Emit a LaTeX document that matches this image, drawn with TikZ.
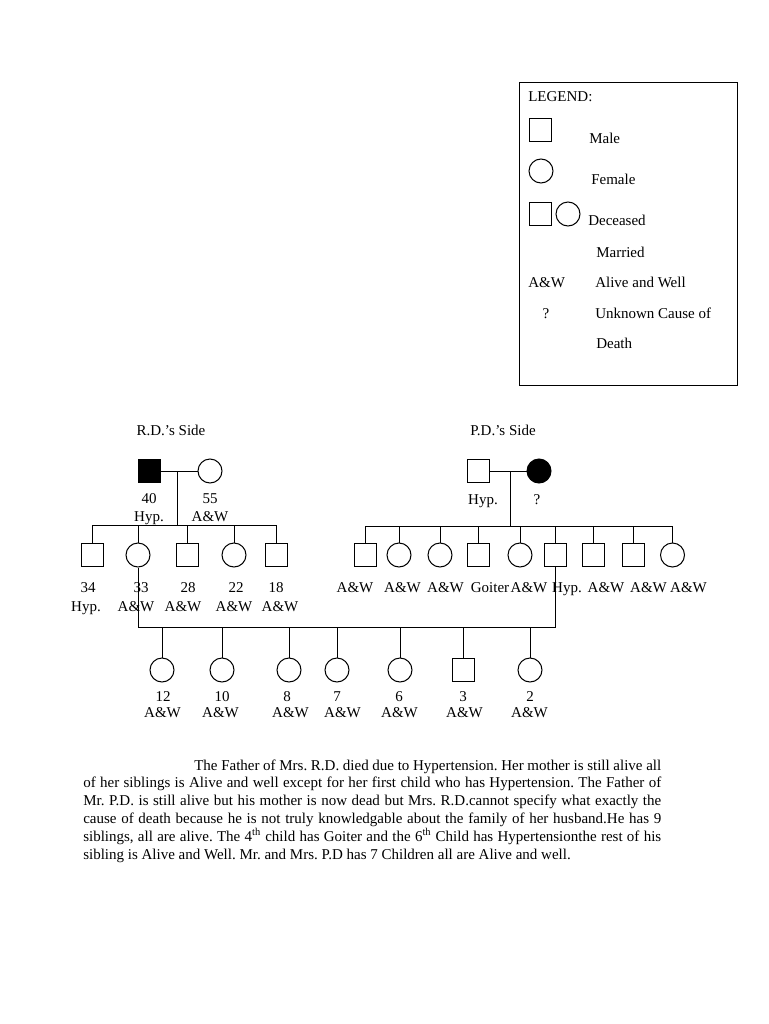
\documentclass[tikz,border=0pt]{standalone}
\usepackage{fontspec}
\setmainfont{Liberation Serif}
\newcommand\lblfont{\fontsize{11.25}{13.35}\selectfont}
\tikzset{
  male/.style={draw, rectangle, minimum width=16.5pt, minimum height=17.5pt, inner sep=0pt, line width=0.75pt},
  female/.style={draw, circle, minimum size=18pt, inner sep=0pt, line width=0.75pt},
  dead/.style={fill=black},
  lbl/.style={font=\lblfont, inner sep=0pt, anchor=base},
  lblw/.style={font=\lblfont, inner sep=0pt, anchor=base west},
  conn/.style={line width=0.75pt}
}
\begin{document}
\begin{tikzpicture}[x=0.75pt, y=-0.75pt]
\useasboundingbox (0,0) rectangle (768,1024);
\fill[white] (0,0) rectangle (768,1024);

% ---------- Legend ----------
\draw[conn] (519,83) rectangle (737,385);
\node[lblw] (lgtitle) at (528,101) {LEGEND:};
\node[male] (lgmale) at (540,130) {};
\node[lblw] (lgmalet) at (589,143) {Male};
\node[female] (lgfem) at (541,171) {};
\node[lblw] (lgfemt) at (591,184) {Female};
\node[male] (lgdm) at (540,214) {};
\node[female] (lgdf) at (568,214) {};
\node[lblw] (lgdt) at (588,225) {Deceased};
\node[lblw] (lgmar) at (596,257) {Married};
\node[lblw] (lgaw) at (528,287) {A\&W};
\node[lblw] (lgawt) at (595,287) {Alive and Well};
\node[lbl] (lgq) at (546,318) {?};
\node[lblw] (lgqt) at (595,318) {Unknown Cause of};
\node[lblw] (lgqt2) at (596,348) {Death};

% ---------- Headers ----------
\node[lbl] (rdside) at (171,435) {R.D.’s Side};
\node[lbl] (pdside) at (503,435) {P.D.’s Side};

% ---------- R.D. parents ----------
\node[male,dead] (rdf) at (149.5,471) {};
\node[female] (rdm) at (210,471) {};
\coordinate (rdmid) at (177,471);
\coordinate (rdsib) at (177,525);
\draw[conn] (rdf) -- (rdm);
\draw[conn] (rdmid) -- (rdsib);
\node[lbl] (rdfa) at (149,503) {40};
\node[lbl] (rdfs) at (149,521) {Hyp.};
\node[lbl] (rdma) at (210,503) {55};
\node[lbl] (rdms) at (210,521) {A\&W};

% ---------- R.D. children ----------
\node[male] (rc1) at (92,555) {};
\node[female] (rc2) at (138,555) {};
\node[male] (rc3) at (187.5,555) {};
\node[female] (rc4) at (234,555) {};
\node[male] (rc5) at (276,555) {};
\draw[conn] (rc1.north |- rdsib) -- (rc5.north |- rdsib);
\foreach \c in {rc1,rc2,rc3,rc4,rc5}
  \draw[conn] (\c.north) -- (\c.north |- rdsib);
\node[lbl] (rc1a) at (88,592) {34};
\node[lbl] (rc1s) at (86,611) {Hyp.};
\node[lbl] (rc2a) at (141,592) {33};
\node[lbl] (rc2s) at (136,611) {A\&W};
\node[lbl] (rc3a) at (188,592) {28};
\node[lbl] (rc3s) at (183,611) {A\&W};
\node[lbl] (rc4a) at (236,592) {22};
\node[lbl] (rc4s) at (234,611) {A\&W};
\node[lbl] (rc5a) at (276,592) {18};
\node[lbl] (rc5s) at (280,611) {A\&W};

% ---------- P.D. parents ----------
\node[male] (pdf) at (478,471) {};
\node[female,dead] (pdm) at (539,471) {};
\coordinate (pdmid) at (510,471);
\coordinate (pdsib) at (510,526);
\draw[conn] (pdf) -- (pdm);
\draw[conn] (pdmid) -- (pdsib);
\node[lbl] (pdfs) at (483,504) {Hyp.};
\node[lbl] (pdms) at (537,504) {?};

% ---------- P.D. children ----------
\node[male] (pc1) at (365.5,555) {};
\node[female] (pc2) at (399,555) {};
\node[female] (pc3) at (440,555) {};
\node[male] (pc4) at (478,555) {};
\node[female] (pc5) at (520,555) {};
\node[male] (pc6) at (555,555) {};
\node[male] (pc7) at (593,555) {};
\node[male] (pc8) at (633,555) {};
\node[female] (pc9) at (672.5,555) {};
\draw[conn] (pc1.north |- pdsib) -- (pc9.north |- pdsib);
\foreach \c in {pc1,pc2,pc3,pc4,pc5,pc6,pc7,pc8,pc9}
  \draw[conn] (\c.north) -- (\c.north |- pdsib);
\node[lbl] (pc1s) at (355,592) {A\&W};
\node[lbl] (pc2s) at (402.5,592) {A\&W};
\node[lbl] (pc3s) at (445.5,592) {A\&W};
\node[lbl] (pc4s) at (490,592) {Goiter};
\node[lbl] (pc5s) at (529,592) {A\&W};
\node[lbl] (pc6s) at (567,592) {Hyp.};
\node[lbl] (pc7s) at (606,592) {A\&W};
\node[lbl] (pc8s) at (648.5,592) {A\&W};
\node[lbl] (pc9s) at (688.5,592) {A\&W};

% ---------- Marriage of rc2 and pc6 ----------
\coordinate (mline) at (300,627);
\draw[conn] (rc2.south) -- (rc2.south |- mline) -- (pc6.south |- mline) -- (pc6.south);

% ---------- Grandchildren ----------
\node[female] (g1) at (162,670) {};
\node[female] (g2) at (222,670) {};
\node[female] (g3) at (289,670) {};
\node[female] (g4) at (337,670) {};
\node[female] (g5) at (400,670) {};
\node[male] (g6) at (463,670) {};
\node[female] (g7) at (530,670) {};
\foreach \c in {g1,g2,g3,g4,g5,g6,g7}
  \draw[conn] (\c.north) -- (\c.north |- mline);
\node[lbl] (g1a) at (163,701) {12};
\node[lbl] (g1s) at (162.5,717) {A\&W};
\node[lbl] (g2a) at (222,701) {10};
\node[lbl] (g2s) at (220.5,717) {A\&W};
\node[lbl] (g3a) at (287,701) {8};
\node[lbl] (g3s) at (290.5,717) {A\&W};
\node[lbl] (g4a) at (337,701) {7};
\node[lbl] (g4s) at (342.5,717) {A\&W};
\node[lbl] (g5a) at (399,701) {6};
\node[lbl] (g5s) at (399.5,717) {A\&W};
\node[lbl] (g6a) at (463,701) {3};
\node[lbl] (g6s) at (464.5,717) {A\&W};
\node[lbl] (g7a) at (530,701) {2};
\node[lbl] (g7s) at (529.5,717) {A\&W};

% ---------- Paragraph ----------
\node[font=\lblfont, inner sep=0pt, anchor=base west, text width=433.5pt, align=justify] (para) at (83,770)
{\frenchspacing\hspace*{83.25pt}The Father of Mrs. R.D. died due to Hypertension. Her mother is still alive all\linebreak
of her siblings is Alive and well except for her first child who has Hypertension. The Father of\linebreak
Mr. P.D. is still alive but his mother is now dead but Mrs. R.D.cannot specify what exactly the\linebreak
cause of death because he is not truly knowledgable about the family of her husband.He has 9\linebreak
siblings, all are alive. The 4\textsuperscript{th} child has Goiter and the 6\textsuperscript{th} Child has Hypertensionthe rest of his\linebreak
sibling is Alive and Well. Mr. and Mrs. P.D has 7 Children all are Alive and well.};
\end{tikzpicture}
\end{document}
